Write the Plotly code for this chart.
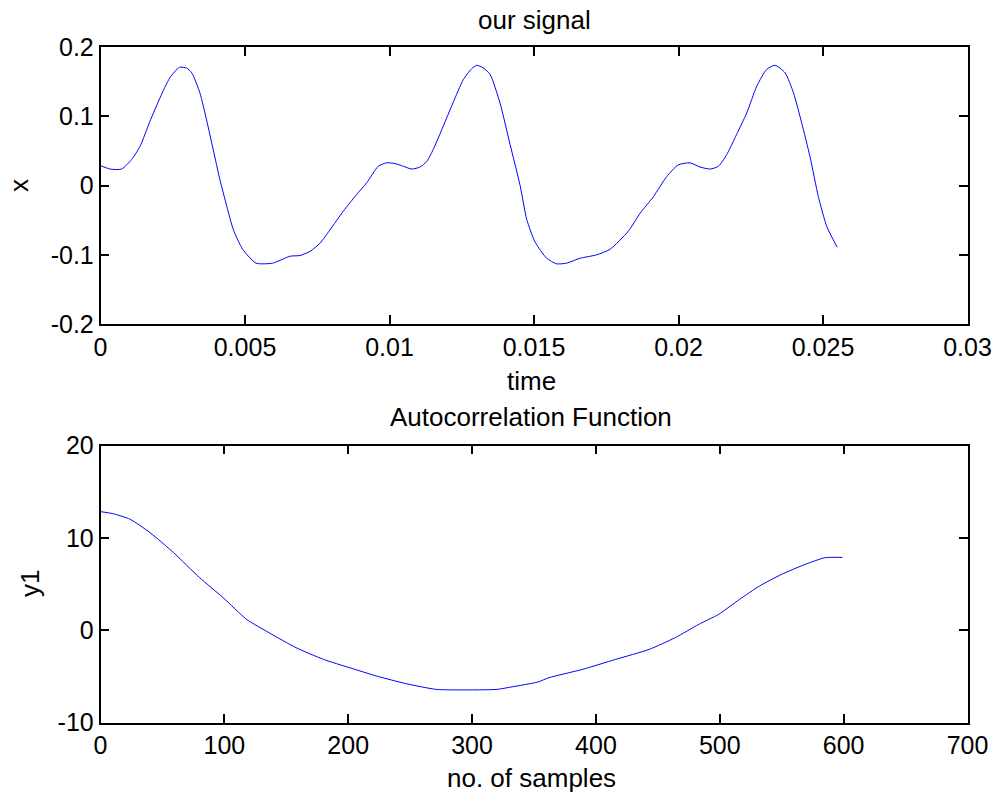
import plotly.graph_objects as go

# ---- data: top panel "our signal" ----
time_s = [0, 0.00033, 0.00073, 0.00108, 0.00137, 0.00171, 0.00206, 0.0024, 0.00273, 0.00298,
          0.00316, 0.00344, 0.00367, 0.0039, 0.00413, 0.00437, 0.0046, 0.00492, 0.00538, 0.00596,
          0.00656, 0.0069, 0.00725, 0.0076, 0.00794, 0.0084, 0.00886, 0.00921, 0.00961, 0.0099,
          0.01019, 0.01048, 0.01077, 0.01106, 0.01129, 0.01151, 0.01186, 0.0122, 0.01255, 0.01284,
          0.01302, 0.01325, 0.01348, 0.01382, 0.01417, 0.01452, 0.01475, 0.01503, 0.01544, 0.01578,
          0.01613, 0.01659, 0.01717, 0.01763, 0.01826, 0.01867, 0.01913, 0.01959, 0.01999, 0.0204,
          0.02074, 0.02109, 0.02138, 0.02167, 0.02201, 0.02236, 0.02271, 0.02305, 0.02334, 0.02369,
          0.02398, 0.02426, 0.02455, 0.02484, 0.02513, 0.02549]
signal_x = [0.029, 0.024, 0.024, 0.038, 0.057, 0.093, 0.127, 0.156, 0.171, 0.170,
            0.163, 0.134, 0.095, 0.052, 0.009, -0.030, -0.064, -0.092, -0.112, -0.112,
            -0.102, -0.101, -0.095, -0.083, -0.064, -0.037, -0.013, 0.004, 0.028, 0.033,
            0.032, 0.028, 0.024, 0.027, 0.035, 0.052, 0.086, 0.120, 0.153, 0.169,
            0.174, 0.170, 0.161, 0.120, 0.060, 0.000, -0.049, -0.081, -0.105, -0.113,
            -0.112, -0.105, -0.100, -0.092, -0.066, -0.040, -0.016, 0.013, 0.030, 0.033,
            0.027, 0.024, 0.028, 0.045, 0.074, 0.105, 0.144, 0.168, 0.174, 0.163,
            0.134, 0.091, 0.042, -0.016, -0.059, -0.089]

# ---- data: bottom panel "Autocorrelation Function" ----
lags = [0, 10, 24, 40, 59, 80, 99, 118, 136, 158, 180, 201, 223, 247, 271, 290,
        320, 333, 353, 362, 389, 416, 443, 464, 483, 499, 516, 532, 550, 569, 585, 599]
acf_y1 = [12.86, 12.64, 12.03, 10.58, 8.42, 5.71, 3.54, 1.19, -0.25, -1.88, -3.14, -4.04,
          -4.95, -5.78, -6.39, -6.45, -6.39, -6.1, -5.6, -5.13, -4.23, -3.14, -2.06, -0.79,
          0.65, 1.73, 3.36, 4.8, 6.07, 7.15, 7.87, 7.9]

top_xticks = [0, 0.005, 0.01, 0.015, 0.02, 0.025, 0.03]
top_xticklabels = ["0", "0.005", "0.01", "0.015", "0.02", "0.025", "0.03"]
top_yticks = [-0.2, -0.1, 0, 0.1, 0.2]
top_yticklabels = ["-0.2", "-0.1", "0", "0.1", "0.2"]
bot_xticks = [0, 100, 200, 300, 400, 500, 600, 700]
bot_xticklabels = ["0", "100", "200", "300", "400", "500", "600", "700"]
bot_yticks = [-10, 0, 10, 20]
bot_yticklabels = ["-10", "0", "10", "20"]

W, H = 997, 794
FONT = "Liberation Sans, Arial, Helvetica, sans-serif"
TICK_SIZE = 25
LABEL_SIZE = 26


def px(x):
    return x / W


def py(y):
    return 1 - y / H


fig = go.Figure()
fig.add_trace(go.Scatter(x=time_s, y=signal_x, mode="lines",
                         line=dict(color="#0000ff", width=1, shape="spline", smoothing=0.6),
                         xaxis="x", yaxis="y", showlegend=False, hoverinfo="skip"))
fig.add_trace(go.Scatter(x=lags, y=acf_y1, mode="lines",
                         line=dict(color="#0000ff", width=1, shape="spline", smoothing=0.6),
                         xaxis="x2", yaxis="y2", showlegend=False, hoverinfo="skip"))

axis_common = dict(showline=True, linecolor="black", linewidth=1.5, mirror="ticks",
                   ticks="inside", ticklen=9, tickwidth=1.5, tickcolor="black",
                   showgrid=False, zeroline=False, automargin=False,
                   tickfont=dict(family=FONT, size=TICK_SIZE, color="black"))

xdom = [px(100.5), px(967.5)]
fig.update_layout(
    width=W, height=H,
    paper_bgcolor="white", plot_bgcolor="white",
    margin=dict(l=0, r=0, t=0, b=0, autoexpand=False),
    xaxis=dict(domain=xdom, range=[0, 0.03], tickvals=top_xticks, ticktext=top_xticklabels,
               anchor="y", **axis_common),
    yaxis=dict(domain=[py(324), py(47.3)], range=[-0.2, 0.2], tickvals=top_yticks,
               ticktext=top_yticklabels, anchor="x", **axis_common),
    xaxis2=dict(domain=xdom, range=[0, 700], tickvals=bot_xticks, ticktext=bot_xticklabels,
                anchor="y2", **axis_common),
    yaxis2=dict(domain=[py(722.7), py(445.7)], range=[-10, 20], tickvals=bot_yticks,
                ticktext=bot_yticklabels, anchor="x2", **axis_common),
)

lab = dict(family=FONT, size=LABEL_SIZE, color="black")
annots = [
    ("our signal", 534, 20, 0),
    ("time", 531, 381, 0),
    ("Autocorrelation Function", 531, 417, 0),
    ("no. of samples", 531, 778, 0),
    ("x", 19, 186, -90),
    ("y1", 30, 584, -90),
]
for text, x, y, ang in annots:
    fig.add_annotation(text=text, x=px(x), y=py(y), xref="paper", yref="paper",
                       xanchor="center", yanchor="middle", showarrow=False,
                       textangle=ang, font=lab)

# remove the browser's default 8px body margin so the figure fills the window
fig.write_html("out.html", config={"displayModeBar": False},
               post_script="document.body.style.margin='0';")
